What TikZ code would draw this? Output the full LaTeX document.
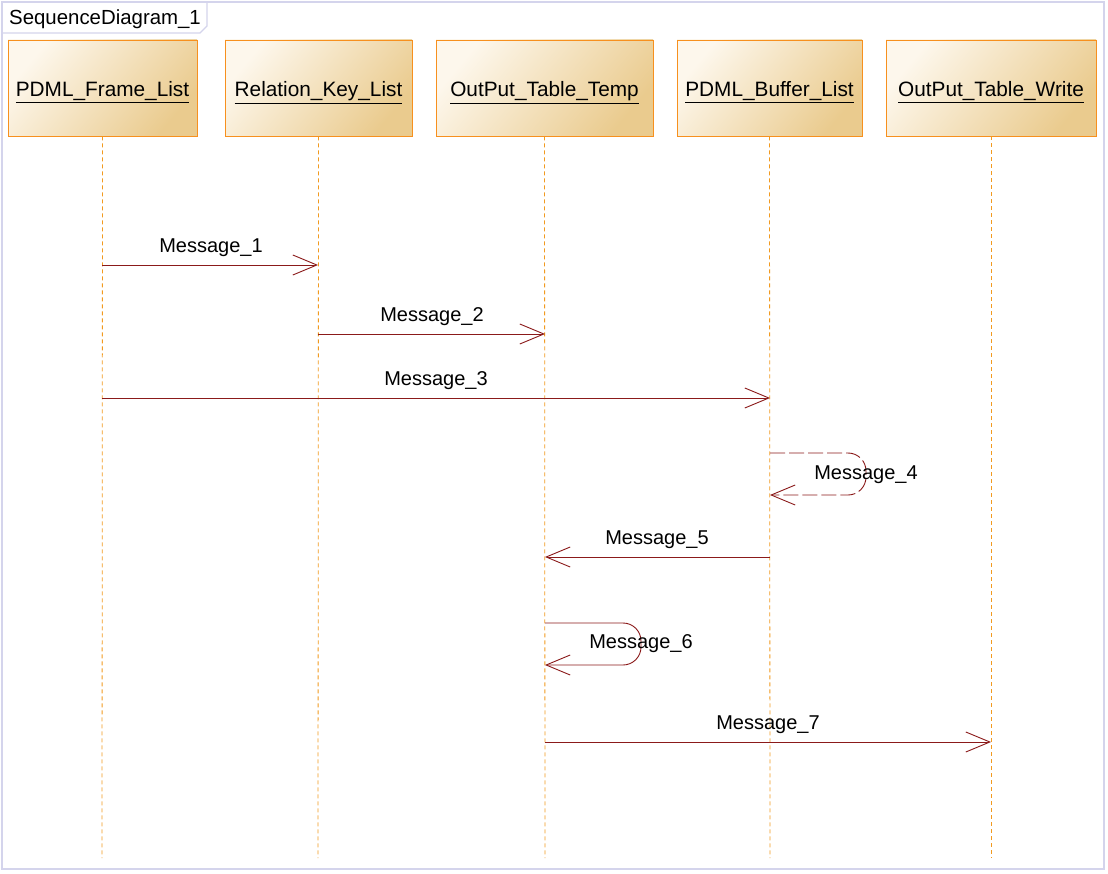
\documentclass[tikz,border=0pt]{standalone}
\usepackage{fontspec}
\setmainfont{Liberation Sans}
\usetikzlibrary{arrows.meta}
\definecolor{frameC}{HTML}{D4D4EC}
\definecolor{boxB}{HTML}{F7901E}
\definecolor{boxL}{HTML}{FDF7EC}
\definecolor{boxD}{HTML}{EACB8E}
\definecolor{lifeC}{HTML}{F29A1F}
\definecolor{msgC}{HTML}{8B1A1A}
\tikzset{
  lifebox/.style={draw=boxB, line width=0.9pt, top color=boxL, bottom color=boxD, shading angle=50, minimum height=96pt, inner sep=0pt, text height=18pt, text depth=0pt, font=\fontsize{20.8}{24}\selectfont},
  lifeline/.style={draw=lifeC, line width=0.8pt, dash pattern=on 4pt off 3pt},
  msg/.style={draw=msgC, line width=0.9pt, -{Straight Barb[length=24pt,width=20pt,line width=0.9pt]}},
  msglbl/.style={font=\fontsize{20}{24}\selectfont, inner sep=1pt},
}
\begin{document}
\begin{tikzpicture}[x=1pt,y=-1pt]
\useasboundingbox (0,0) rectangle (1108,874);
\fill[white] (0,0) rectangle (1108,874);
% frame
\draw[frameC, line width=1.5pt] (2,2) rectangle (1104,869);
\draw[frameC, line width=1.2pt] (2,33) -- (200,33) -- (207,26) -- (207,2);
\node[anchor=west, font=\fontsize{20.4}{24}\selectfont, inner sep=0pt] (title) at (9,19) {SequenceDiagram\_1};
% lifeline boxes
\node[lifebox, minimum width=189pt] (L1) at (102.5,88) {\underline{PDML\_Frame\_List}};
\node[lifebox, minimum width=187pt] (L2) at (318.5,88) {\underline{Relation\_Key\_List}};
\node[lifebox, minimum width=217pt] (L3) at (544.5,88) {\underline{OutPut\_Table\_Temp}};
\node[lifebox, minimum width=185pt] (L4) at (769.5,88) {\underline{PDML\_Buffer\_List}};
\node[lifebox, minimum width=210pt] (L5) at (991,88) {\underline{OutPut\_Table\_Write}};
% lifeline ends
\coordinate (E1) at (102,858);
\coordinate (E2) at (318,858);
\coordinate (E3) at (545,858);
\coordinate (E4) at (770,858);
\coordinate (E5) at (991,858);
\draw[lifeline] (L1.south) -- (E1);
\draw[lifeline] (L2.south) -- (E2);
\draw[lifeline] (L3.south) -- (E3);
\draw[lifeline] (L4.south) -- (E4);
\draw[lifeline] (L5.south) -- (E5);
% message points
\coordinate (m1a) at (102,265); \coordinate (m1b) at (318,265);
\coordinate (m2a) at (318,334); \coordinate (m2b) at (545,334);
\coordinate (m3a) at (102,398); \coordinate (m3b) at (770,398);
\coordinate (m4a) at (770,453); \coordinate (m4b) at (770,495);
\coordinate (m5a) at (770,557); \coordinate (m5b) at (545,557);
\coordinate (m6a) at (545,623); \coordinate (m6b) at (545,665);
\coordinate (m7a) at (545,742); \coordinate (m7b) at (991,742);
\draw[msg] (m1a) -- (m1b);
\draw[msg] (m2a) -- (m2b);
\draw[msg] (m3a) -- (m3b);
\draw[msg, dash pattern=on 15pt off 4pt, rounded corners=18pt] (m4a) -- (866,453) -- (866,495) -- (m4b);
\draw[msg] (m5a) -- (m5b);
\draw[msg, rounded corners=18pt] (m6a) -- (641,623) -- (641,665) -- (m6b);
\draw[msg] (m7a) -- (m7b);
% labels
\node[msglbl] (t1) at (211,248) {Message\_1};
\node[msglbl] (t2) at (432,317) {Message\_2};
\node[msglbl] (t3) at (436,381) {Message\_3};
\node[msglbl] (t4) at (866,475) {Message\_4};
\node[msglbl] (t5) at (657,540) {Message\_5};
\node[msglbl] (t6) at (641,644) {Message\_6};
\node[msglbl] (t7) at (768,725) {Message\_7};
\end{tikzpicture}
\end{document}
